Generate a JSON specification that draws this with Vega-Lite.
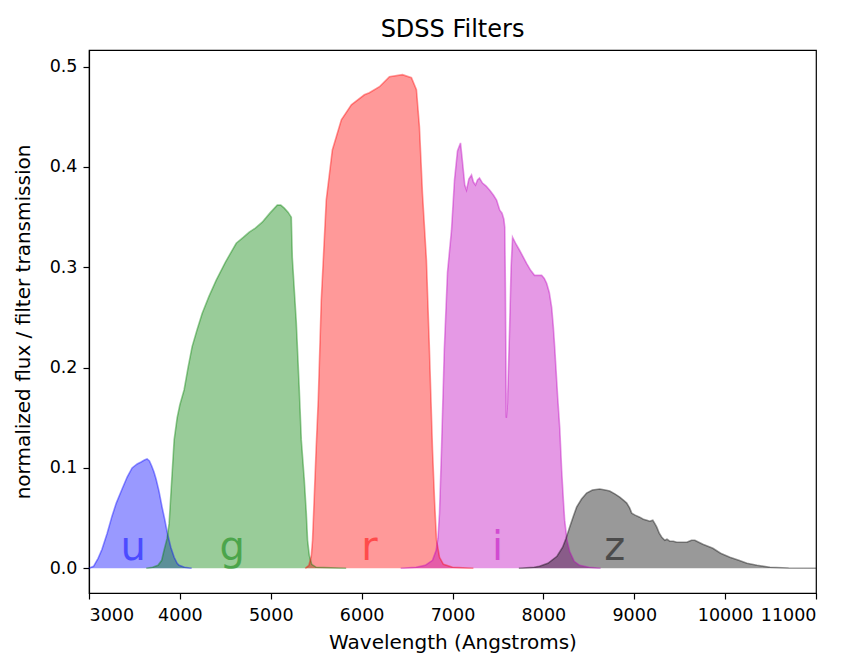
{
  "$schema": "https://vega.github.io/schema/vega-lite/v6.json",
  "width": 727,
  "height": 543,
  "autosize": {"type": "none"},
  "padding": {"left": 89, "top": 50, "right": 33, "bottom": 70},
  "title": {"text": "SDSS Filters", "font": "DejaVu Sans", "fontSize": 24, "fontWeight": "normal", "color": "#000", "offset": 8},
  "config": {
    "view": {"stroke": "#000", "strokeWidth": 1.2},
    "font": "DejaVu Sans",
    "axis": {
      "grid": false, "domainColor": "#000", "domainWidth": 1.2, "tickColor": "#000", "tickWidth": 1.2, "tickSize": 6,
      "labelFont": "DejaVu Sans", "labelFontSize": 17.5, "labelColor": "#000", "labelPadding": 6,
      "titleFont": "DejaVu Sans", "titleFontSize": 20, "titleFontWeight": "normal", "titleColor": "#000"
    }
  },
  "datasets": {
    "curves": [
      {"filter": "u", "wavelength": 3000, "value": 0},
      {"filter": "u", "wavelength": 3050, "value": 0.002},
      {"filter": "u", "wavelength": 3100, "value": 0.010},
      {"filter": "u", "wavelength": 3143, "value": 0.019},
      {"filter": "u", "wavelength": 3200, "value": 0.035},
      {"filter": "u", "wavelength": 3253, "value": 0.052},
      {"filter": "u", "wavelength": 3300, "value": 0.065},
      {"filter": "u", "wavelength": 3364, "value": 0.079},
      {"filter": "u", "wavelength": 3420, "value": 0.091},
      {"filter": "u", "wavelength": 3474, "value": 0.100},
      {"filter": "u", "wavelength": 3530, "value": 0.104},
      {"filter": "u", "wavelength": 3573, "value": 0.106},
      {"filter": "u", "wavelength": 3610, "value": 0.108},
      {"filter": "u", "wavelength": 3639, "value": 0.109},
      {"filter": "u", "wavelength": 3665, "value": 0.107},
      {"filter": "u", "wavelength": 3690, "value": 0.102},
      {"filter": "u", "wavelength": 3715, "value": 0.096},
      {"filter": "u", "wavelength": 3738, "value": 0.089},
      {"filter": "u", "wavelength": 3770, "value": 0.077},
      {"filter": "u", "wavelength": 3804, "value": 0.061},
      {"filter": "u", "wavelength": 3835, "value": 0.048},
      {"filter": "u", "wavelength": 3860, "value": 0.036},
      {"filter": "u", "wavelength": 3900, "value": 0.021},
      {"filter": "u", "wavelength": 3937, "value": 0.011},
      {"filter": "u", "wavelength": 3970, "value": 0.005},
      {"filter": "u", "wavelength": 3992, "value": 0.003},
      {"filter": "u", "wavelength": 4050, "value": 0.001},
      {"filter": "u", "wavelength": 4130, "value": 0},

      {"filter": "g", "wavelength": 3630, "value": 0},
      {"filter": "g", "wavelength": 3700, "value": 0.001},
      {"filter": "g", "wavelength": 3760, "value": 0.003},
      {"filter": "g", "wavelength": 3800, "value": 0.008},
      {"filter": "g", "wavelength": 3826, "value": 0.018},
      {"filter": "g", "wavelength": 3860, "value": 0.030},
      {"filter": "g", "wavelength": 3882, "value": 0.045},
      {"filter": "g", "wavelength": 3915, "value": 0.095},
      {"filter": "g", "wavelength": 3937, "value": 0.128},
      {"filter": "g", "wavelength": 3970, "value": 0.150},
      {"filter": "g", "wavelength": 4000, "value": 0.163},
      {"filter": "g", "wavelength": 4047, "value": 0.178},
      {"filter": "g", "wavelength": 4090, "value": 0.200},
      {"filter": "g", "wavelength": 4135, "value": 0.221},
      {"filter": "g", "wavelength": 4190, "value": 0.238},
      {"filter": "g", "wavelength": 4245, "value": 0.254},
      {"filter": "g", "wavelength": 4320, "value": 0.271},
      {"filter": "g", "wavelength": 4399, "value": 0.287},
      {"filter": "g", "wavelength": 4500, "value": 0.305},
      {"filter": "g", "wavelength": 4620, "value": 0.324},
      {"filter": "g", "wavelength": 4700, "value": 0.330},
      {"filter": "g", "wavelength": 4763, "value": 0.335},
      {"filter": "g", "wavelength": 4830, "value": 0.339},
      {"filter": "g", "wavelength": 4906, "value": 0.345},
      {"filter": "g", "wavelength": 4990, "value": 0.354},
      {"filter": "g", "wavelength": 5072, "value": 0.362},
      {"filter": "g", "wavelength": 5110, "value": 0.362},
      {"filter": "g", "wavelength": 5149, "value": 0.359},
      {"filter": "g", "wavelength": 5190, "value": 0.355},
      {"filter": "g", "wavelength": 5226, "value": 0.350},
      {"filter": "g", "wavelength": 5237, "value": 0.310},
      {"filter": "g", "wavelength": 5281, "value": 0.245},
      {"filter": "g", "wavelength": 5314, "value": 0.178},
      {"filter": "g", "wavelength": 5336, "value": 0.128},
      {"filter": "g", "wavelength": 5369, "value": 0.088},
      {"filter": "g", "wavelength": 5391, "value": 0.055},
      {"filter": "g", "wavelength": 5405, "value": 0.028},
      {"filter": "g", "wavelength": 5424, "value": 0.013},
      {"filter": "g", "wavelength": 5450, "value": 0.004},
      {"filter": "g", "wavelength": 5500, "value": 0.001},
      {"filter": "g", "wavelength": 5830, "value": 0},

      {"filter": "r", "wavelength": 5380, "value": 0},
      {"filter": "r", "wavelength": 5420, "value": 0.003},
      {"filter": "r", "wavelength": 5446, "value": 0.012},
      {"filter": "r", "wavelength": 5460, "value": 0.028},
      {"filter": "r", "wavelength": 5479, "value": 0.071},
      {"filter": "r", "wavelength": 5500, "value": 0.120},
      {"filter": "r", "wavelength": 5523, "value": 0.168},
      {"filter": "r", "wavelength": 5556, "value": 0.267},
      {"filter": "r", "wavelength": 5611, "value": 0.367},
      {"filter": "r", "wavelength": 5678, "value": 0.417},
      {"filter": "r", "wavelength": 5777, "value": 0.447},
      {"filter": "r", "wavelength": 5887, "value": 0.462},
      {"filter": "r", "wavelength": 6030, "value": 0.472},
      {"filter": "r", "wavelength": 6085, "value": 0.474},
      {"filter": "r", "wavelength": 6196, "value": 0.480},
      {"filter": "r", "wavelength": 6306, "value": 0.490},
      {"filter": "r", "wavelength": 6449, "value": 0.492},
      {"filter": "r", "wavelength": 6548, "value": 0.489},
      {"filter": "r", "wavelength": 6603, "value": 0.477},
      {"filter": "r", "wavelength": 6636, "value": 0.440},
      {"filter": "r", "wavelength": 6669, "value": 0.374},
      {"filter": "r", "wavelength": 6713, "value": 0.307},
      {"filter": "r", "wavelength": 6746, "value": 0.218},
      {"filter": "r", "wavelength": 6780, "value": 0.118},
      {"filter": "r", "wavelength": 6802, "value": 0.068},
      {"filter": "r", "wavelength": 6824, "value": 0.028},
      {"filter": "r", "wavelength": 6857, "value": 0.011},
      {"filter": "r", "wavelength": 6900, "value": 0.004},
      {"filter": "r", "wavelength": 7000, "value": 0.001},
      {"filter": "r", "wavelength": 7230, "value": 0},

      {"filter": "i", "wavelength": 6430, "value": 0},
      {"filter": "i", "wavelength": 6600, "value": 0.001},
      {"filter": "i", "wavelength": 6700, "value": 0.003},
      {"filter": "i", "wavelength": 6780, "value": 0.008},
      {"filter": "i", "wavelength": 6820, "value": 0.018},
      {"filter": "i", "wavelength": 6840, "value": 0.030},
      {"filter": "i", "wavelength": 6857, "value": 0.055},
      {"filter": "i", "wavelength": 6879, "value": 0.118},
      {"filter": "i", "wavelength": 6910, "value": 0.218},
      {"filter": "i", "wavelength": 6945, "value": 0.295},
      {"filter": "i", "wavelength": 6989, "value": 0.337},
      {"filter": "i", "wavelength": 7022, "value": 0.387},
      {"filter": "i", "wavelength": 7055, "value": 0.416},
      {"filter": "i", "wavelength": 7088, "value": 0.424},
      {"filter": "i", "wavelength": 7110, "value": 0.405},
      {"filter": "i", "wavelength": 7135, "value": 0.382},
      {"filter": "i", "wavelength": 7154, "value": 0.377},
      {"filter": "i", "wavelength": 7180, "value": 0.388},
      {"filter": "i", "wavelength": 7209, "value": 0.392},
      {"filter": "i", "wavelength": 7230, "value": 0.385},
      {"filter": "i", "wavelength": 7253, "value": 0.382},
      {"filter": "i", "wavelength": 7275, "value": 0.387},
      {"filter": "i", "wavelength": 7297, "value": 0.389},
      {"filter": "i", "wavelength": 7330, "value": 0.384},
      {"filter": "i", "wavelength": 7370, "value": 0.381},
      {"filter": "i", "wavelength": 7408, "value": 0.377},
      {"filter": "i", "wavelength": 7450, "value": 0.372},
      {"filter": "i", "wavelength": 7485, "value": 0.367},
      {"filter": "i", "wavelength": 7520, "value": 0.357},
      {"filter": "i", "wavelength": 7545, "value": 0.354},
      {"filter": "i", "wavelength": 7565, "value": 0.348},
      {"filter": "i", "wavelength": 7575, "value": 0.340},
      {"filter": "i", "wavelength": 7582, "value": 0.280},
      {"filter": "i", "wavelength": 7592, "value": 0.150},
      {"filter": "i", "wavelength": 7605, "value": 0.165},
      {"filter": "i", "wavelength": 7628, "value": 0.238},
      {"filter": "i", "wavelength": 7645, "value": 0.300},
      {"filter": "i", "wavelength": 7661, "value": 0.330},
      {"filter": "i", "wavelength": 7700, "value": 0.323},
      {"filter": "i", "wavelength": 7738, "value": 0.317},
      {"filter": "i", "wavelength": 7780, "value": 0.310},
      {"filter": "i", "wavelength": 7815, "value": 0.304},
      {"filter": "i", "wavelength": 7860, "value": 0.297},
      {"filter": "i", "wavelength": 7903, "value": 0.292},
      {"filter": "i", "wavelength": 7940, "value": 0.292},
      {"filter": "i", "wavelength": 7981, "value": 0.292},
      {"filter": "i", "wavelength": 8010, "value": 0.289},
      {"filter": "i", "wavelength": 8036, "value": 0.284},
      {"filter": "i", "wavelength": 8065, "value": 0.275},
      {"filter": "i", "wavelength": 8091, "value": 0.260},
      {"filter": "i", "wavelength": 8110, "value": 0.240},
      {"filter": "i", "wavelength": 8124, "value": 0.221},
      {"filter": "i", "wavelength": 8157, "value": 0.171},
      {"filter": "i", "wavelength": 8180, "value": 0.140},
      {"filter": "i", "wavelength": 8201, "value": 0.098},
      {"filter": "i", "wavelength": 8220, "value": 0.068},
      {"filter": "i", "wavelength": 8234, "value": 0.048},
      {"filter": "i", "wavelength": 8260, "value": 0.028},
      {"filter": "i", "wavelength": 8289, "value": 0.017},
      {"filter": "i", "wavelength": 8340, "value": 0.007},
      {"filter": "i", "wavelength": 8399, "value": 0.003},
      {"filter": "i", "wavelength": 8500, "value": 0.001},
      {"filter": "i", "wavelength": 8630, "value": 0},

      {"filter": "z", "wavelength": 7730, "value": 0},
      {"filter": "z", "wavelength": 7900, "value": 0.001},
      {"filter": "z", "wavelength": 7958, "value": 0.002},
      {"filter": "z", "wavelength": 8050, "value": 0.005},
      {"filter": "z", "wavelength": 8150, "value": 0.012},
      {"filter": "z", "wavelength": 8212, "value": 0.021},
      {"filter": "z", "wavelength": 8250, "value": 0.030},
      {"filter": "z", "wavelength": 8289, "value": 0.041},
      {"filter": "z", "wavelength": 8330, "value": 0.052},
      {"filter": "z", "wavelength": 8366, "value": 0.061},
      {"filter": "z", "wavelength": 8420, "value": 0.069},
      {"filter": "z", "wavelength": 8476, "value": 0.075},
      {"filter": "z", "wavelength": 8540, "value": 0.078},
      {"filter": "z", "wavelength": 8620, "value": 0.079},
      {"filter": "z", "wavelength": 8680, "value": 0.078},
      {"filter": "z", "wavelength": 8730, "value": 0.077},
      {"filter": "z", "wavelength": 8790, "value": 0.074},
      {"filter": "z", "wavelength": 8840, "value": 0.071},
      {"filter": "z", "wavelength": 8880, "value": 0.068},
      {"filter": "z", "wavelength": 8917, "value": 0.065},
      {"filter": "z", "wavelength": 8950, "value": 0.060},
      {"filter": "z", "wavelength": 8972, "value": 0.055},
      {"filter": "z", "wavelength": 9010, "value": 0.053},
      {"filter": "z", "wavelength": 9060, "value": 0.051},
      {"filter": "z", "wavelength": 9100, "value": 0.049},
      {"filter": "z", "wavelength": 9138, "value": 0.048},
      {"filter": "z", "wavelength": 9170, "value": 0.047},
      {"filter": "z", "wavelength": 9204, "value": 0.048},
      {"filter": "z", "wavelength": 9230, "value": 0.044},
      {"filter": "z", "wavelength": 9248, "value": 0.041},
      {"filter": "z", "wavelength": 9275, "value": 0.035},
      {"filter": "z", "wavelength": 9303, "value": 0.031},
      {"filter": "z", "wavelength": 9336, "value": 0.028},
      {"filter": "z", "wavelength": 9360, "value": 0.029},
      {"filter": "z", "wavelength": 9391, "value": 0.027},
      {"filter": "z", "wavelength": 9430, "value": 0.027},
      {"filter": "z", "wavelength": 9468, "value": 0.026},
      {"filter": "z", "wavelength": 9520, "value": 0.026},
      {"filter": "z", "wavelength": 9578, "value": 0.026},
      {"filter": "z", "wavelength": 9630, "value": 0.028},
      {"filter": "z", "wavelength": 9667, "value": 0.028},
      {"filter": "z", "wavelength": 9710, "value": 0.026},
      {"filter": "z", "wavelength": 9755, "value": 0.024},
      {"filter": "z", "wavelength": 9865, "value": 0.020},
      {"filter": "z", "wavelength": 9950, "value": 0.015},
      {"filter": "z", "wavelength": 10052, "value": 0.011},
      {"filter": "z", "wavelength": 10150, "value": 0.008},
      {"filter": "z", "wavelength": 10240, "value": 0.005},
      {"filter": "z", "wavelength": 10350, "value": 0.003},
      {"filter": "z", "wavelength": 10493, "value": 0.001},
      {"filter": "z", "wavelength": 10700, "value": 0.0003},
      {"filter": "z", "wavelength": 11000, "value": 0}
    ],
    "labels": [
      {"filter": "u", "wavelength": 3485, "value": 0.02},
      {"filter": "g", "wavelength": 4576, "value": 0.02},
      {"filter": "r", "wavelength": 6085, "value": 0.02},
      {"filter": "i", "wavelength": 7496, "value": 0.02},
      {"filter": "z", "wavelength": 8785, "value": 0.02}
    ]
  },
  "encoding": {
    "x": {
      "field": "wavelength", "type": "quantitative",
      "scale": {"domain": [3000, 11000], "nice": false, "zero": false},
      "axis": {"values": [3000, 4000, 5000, 6000, 7000, 8000, 9000, 10000, 11000], "format": "d", "title": "Wavelength (Angstroms)", "titlePadding": 9, "labelPadding": 7}
    },
    "y": {
      "field": "value", "type": "quantitative",
      "scale": {"domain": [-0.0246, 0.5166], "nice": false, "zero": false},
      "axis": {"values": [0, 0.1, 0.2, 0.3, 0.4, 0.5], "format": ".1f", "title": "normalized flux / filter transmission", "titlePadding": 16}
    },
    "color": {
      "field": "filter", "type": "nominal",
      "scale": {"domain": ["u", "g", "r", "i", "z"], "range": ["#0000ff", "#008000", "#ff0000", "#bf00bf", "#000000"]},
      "legend": null
    }
  },
  "layer": [
    {
      "data": {"name": "curves"},
      "mark": {"type": "area", "opacity": 0.4, "interpolate": "linear"},
      "encoding": {"y": {"field": "value", "type": "quantitative", "stack": null}}
    },
    {
      "data": {"name": "curves"},
      "mark": {"type": "line", "opacity": 0.4, "strokeWidth": 1.6, "interpolate": "linear"}
    },
    {
      "data": {"name": "labels"},
      "mark": {"type": "text", "fontSize": 40, "font": "DejaVu Sans", "opacity": 0.5, "baseline": "middle", "align": "center"},
      "encoding": {"text": {"field": "filter", "type": "nominal"}}
    }
  ]
}
